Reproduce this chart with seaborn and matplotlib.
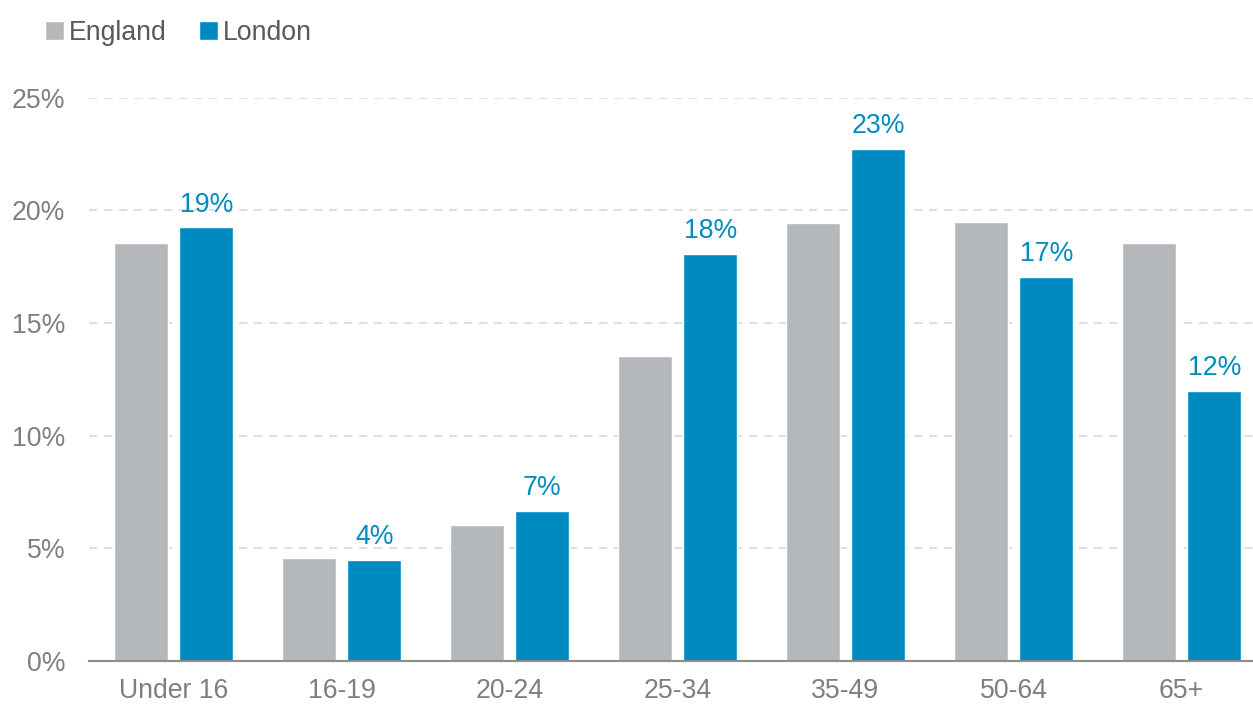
import matplotlib
matplotlib.use("Agg")
import matplotlib.pyplot as plt
import seaborn as sns
import pandas as pd
from matplotlib.patches import Patch

# Share of population by age band
age_groups = ["Under 16", "16-19", "20-24", "25-34", "35-49", "50-64", "65+"]
england = [18.55, 4.57, 6.04, 13.55, 19.45, 19.5, 18.55]
london = [19.25, 4.48, 6.67, 18.07, 22.72, 17.05, 11.98]
series_names = ["England", "London"]
y_ticks = [0, 5, 10, 15, 20, 25]

df = pd.DataFrame({
    "age": age_groups * 2,
    "share": england + london,
    "area": [series_names[0]] * len(age_groups) + [series_names[1]] * len(age_groups),
})

GREY = "#B5B8BA"
BLUE = "#008BC0"
TICK = "#7F7F7F"
LEGEND_TXT = "#595959"

sns.set_theme(style="white")
plt.rcParams["font.family"] = ["Liberation Sans", "DejaVu Sans"]

fig = plt.figure(figsize=(12.53, 7.04), dpi=100)
ax = fig.add_axes([0.071, 0.0611, 0.929, 0.8])

sns.barplot(data=df, x="age", y="share", hue="area", order=age_groups,
            hue_order=series_names, palette=[GREY, BLUE], width=0.78, gap=0.177,
            saturation=1, legend=False, ax=ax)

ax.set_ylim(0, 25)
ax.set_xlim(-0.503, 6.426)
ax.set_yticks(y_ticks)
ax.set_yticklabels([f"{t}%" for t in y_ticks])
ax.yaxis.grid(True, linestyle=(0, (5, 4)), color="#D9D9D9", linewidth=1.2)
ax.set_axisbelow(True)
ax.set_xlabel("")
ax.set_ylabel("")
for s in ["top", "right", "left"]:
    ax.spines[s].set_visible(False)
ax.spines["bottom"].set_color("#8C8C8C")
ax.spines["bottom"].set_linewidth(1.5)
ax.tick_params(axis="both", length=0, labelsize=19.2, colors=TICK)
ax.tick_params(axis="x", pad=12)
ax.tick_params(axis="y", pad=17)

# value labels on London bars
london_bars = ax.containers[1]
for bar, v in zip(london_bars, london):
    ax.annotate(f"{v:.0f}%", (bar.get_x() + bar.get_width() / 2, v),
                xytext=(0, 7), textcoords="offset points", ha="center", va="bottom",
                fontsize=19.2, color=BLUE)

handles = [Patch(facecolor=GREY, label=series_names[0]),
           Patch(facecolor=BLUE, label=series_names[1])]
leg = fig.legend(handles=handles, loc="upper left", bbox_to_anchor=(0.017, 1.006),
                 ncol=2, frameon=False, fontsize=19.2, handlelength=0.7, handleheight=0.7,
                 handletextpad=0.2, columnspacing=1.2, labelcolor=LEGEND_TXT)

fig.savefig("out.png", dpi=100)
